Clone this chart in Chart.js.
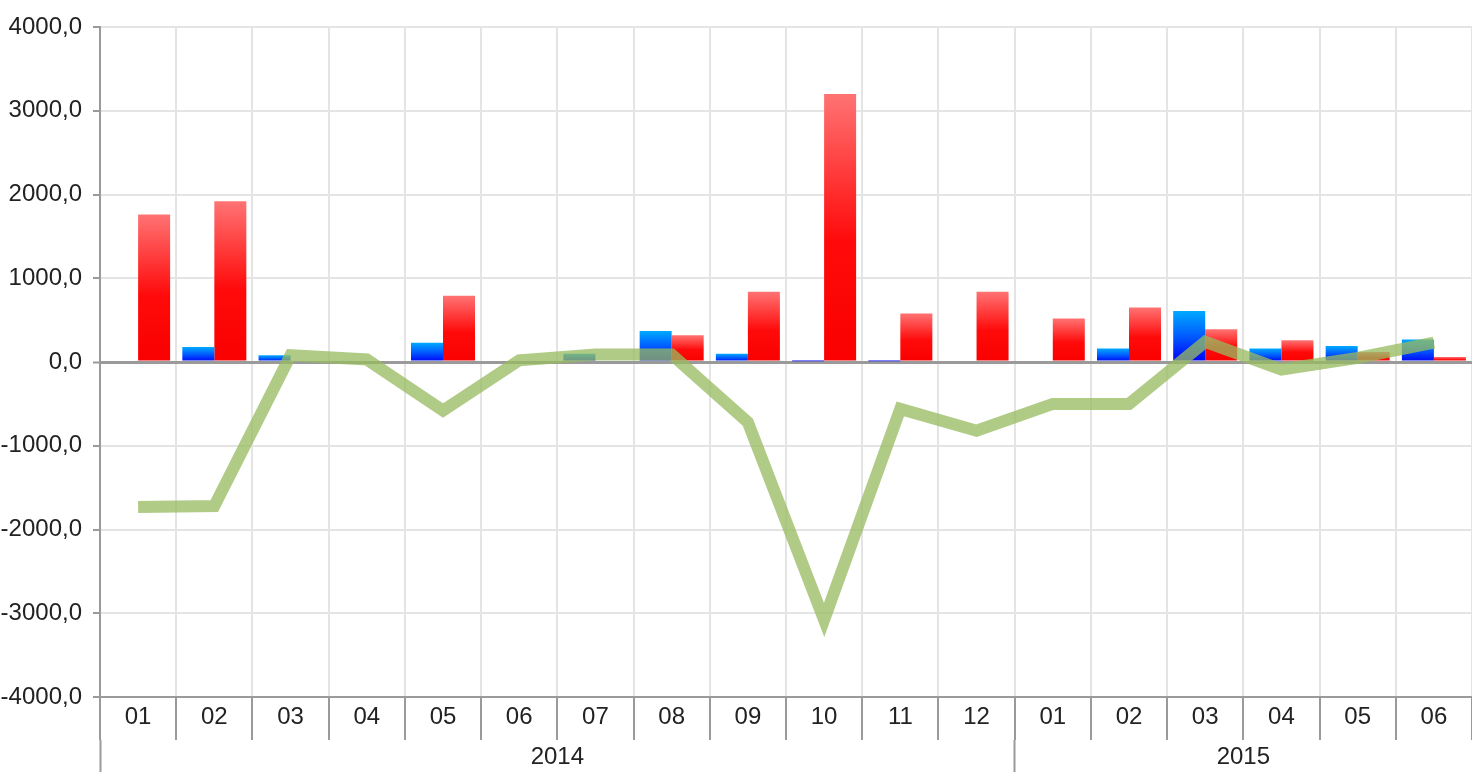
<!DOCTYPE html>
<html>
<head>
<meta charset="utf-8">
<script src="https://cdn.jsdelivr.net/npm/chart.js@4/dist/chart.umd.min.js"></script>
<style>
html,body{margin:0;padding:0;background:#fff;}
canvas{display:block;}
</style>
</head>
<body>
<canvas id="c" width="1472" height="772"></canvas>
<script>
// ---- data ----
const months = ['01','02','03','04','05','06','07','08','09','10','11','12','01','02','03','04','05','06'];
const years = ['2014','2015'];
const yearMonthCounts = [12, 6];
const blueValues = [0,180,80,0,230,0,100,370,100,10,10,0, 0,160,610,160,190,270];
const redValues  = [1760,1920,0,0,790,0,0,320,840,3200,580,840, 520,650,390,260,120,60];
const lineValues = [-1730,-1720,80,30,-580,20,90,90,-720,-3080,-560,-820, -500,-500,240,-90,50,230];
const yMin = -4000, yMax = 4000, yStep = 1000;

// year group geometry derived from counts (category index space)
const yearBounds = [];
const yearCenters = [];
let acc = -0.5;
yearBounds.push(acc);
yearMonthCounts.forEach(n => { yearCenters.push(acc + n/2); acc += n; yearBounds.push(acc); });

const FONT = '"Liberation Sans Narrow","Arial Narrow","Liberation Sans",Arial,sans-serif';

function gradientFill(stops) {
  return function(ctx) {
    const chart = ctx.chart;
    const fallback = stops[stops.length-1][1];
    if (!chart.chartArea || ctx.type !== 'data') return fallback;
    const ys = chart.scales.y;
    const p0 = ys.getPixelForValue(0);
    const p1 = ys.getPixelForValue(ctx.raw);
    if (Math.abs(p1 - p0) < 1) return fallback;
    const g = chart.ctx.createLinearGradient(0, Math.min(p0,p1), 0, Math.max(p0,p1));
    stops.forEach(s => g.addColorStop(s[0], s[1]));
    return g;
  };
}

const redStops = [[0,'rgb(255,115,115)'],[0.55,'rgb(255,10,10)'],[1,'rgb(250,0,0)']];
const blueStops = [[0,'rgb(0,170,255)'],[0.5,'rgb(0,90,255)'],[1,'rgb(0,0,245)']];

new Chart(document.getElementById('c'), {
  data: {
    labels: months,
    datasets: [
      { type: 'line', data: lineValues, borderColor: 'rgba(150,186,95,0.76)', borderWidth: 12,
        pointRadius: 0, fill: false, tension: 0, order: 0, borderJoinStyle: 'miter', borderCapStyle: 'butt' },
      { type: 'bar', data: blueValues, backgroundColor: gradientFill(blueStops), borderWidth: 0,
        categoryPercentage: 0.84, barPercentage: 1, order: 1 },
      { type: 'bar', data: redValues, backgroundColor: gradientFill(redStops), borderWidth: 0,
        categoryPercentage: 0.84, barPercentage: 1, order: 1 }
    ]
  },
  options: {
    responsive: false,
    animation: false,
    layout: { padding: { top: 27, right: 0, left: 0, bottom: 0 } },
    plugins: { legend: { display: false }, tooltip: { enabled: false } },
    scales: {
      x: {
        type: 'category',
        position: 'bottom',
        offset: true,
        grid: { offset: true, color: '#e4e4e4', lineWidth: 2, tickColor: '#9a9a9a', tickWidth: 2, tickLength: 43, drawOnChartArea: true },
        border: { color: '#9a9a9a', width: 2 },
        ticks: { font: { family: FONT, size: 24 }, color: '#222', padding: -37, maxRotation: 0, autoSkip: false },
        afterFit: s => { s.height = 43; }
      },
      x2: {
        type: 'linear',
        position: 'bottom',
        min: yearBounds[0],
        max: yearBounds[yearBounds.length-1],
        afterBuildTicks: s => {
          const vals = yearBounds.slice(0, -1).concat(yearCenters).sort((a,b)=>a-b);
          s.ticks = vals.map(v => ({ value: v }));
        },
        grid: {
          drawOnChartArea: false, tickLength: 32, tickWidth: 2,
          tickColor: ctx => yearBounds.includes(ctx.tick && ctx.tick.value) ? '#9a9a9a' : 'rgba(0,0,0,0)',
          color: 'rgba(0,0,0,0)'
        },
        border: { display: false },
        ticks: {
          font: { family: FONT, size: 24 }, color: '#222', padding: -29, maxRotation: 0, autoSkip: false,
          callback: v => { const i = yearCenters.indexOf(v); return i >= 0 ? years[i] : ''; }
        },
        afterFit: s => { s.height = 32; }
      },
      y: {
        type: 'linear',
        min: yMin, max: yMax,
        ticks: { stepSize: yStep, font: { family: FONT, size: 24 }, color: '#222', padding: 11,
          callback: v => v.toFixed(1).replace('.', ',') },
        grid: { color: ctx => (ctx.tick && ctx.tick.value === 0) ? '#9a9a9a' : '#e4e4e4',
          lineWidth: ctx => (ctx.tick && ctx.tick.value === 0) ? 3 : 2,
          tickColor: '#9a9a9a', tickLength: 7, tickWidth: 2 },
        border: { color: '#9a9a9a', width: 2 },
        afterFit: s => { s.width = 100; }
      }
    }
  }
});
</script>
</body>
</html>
